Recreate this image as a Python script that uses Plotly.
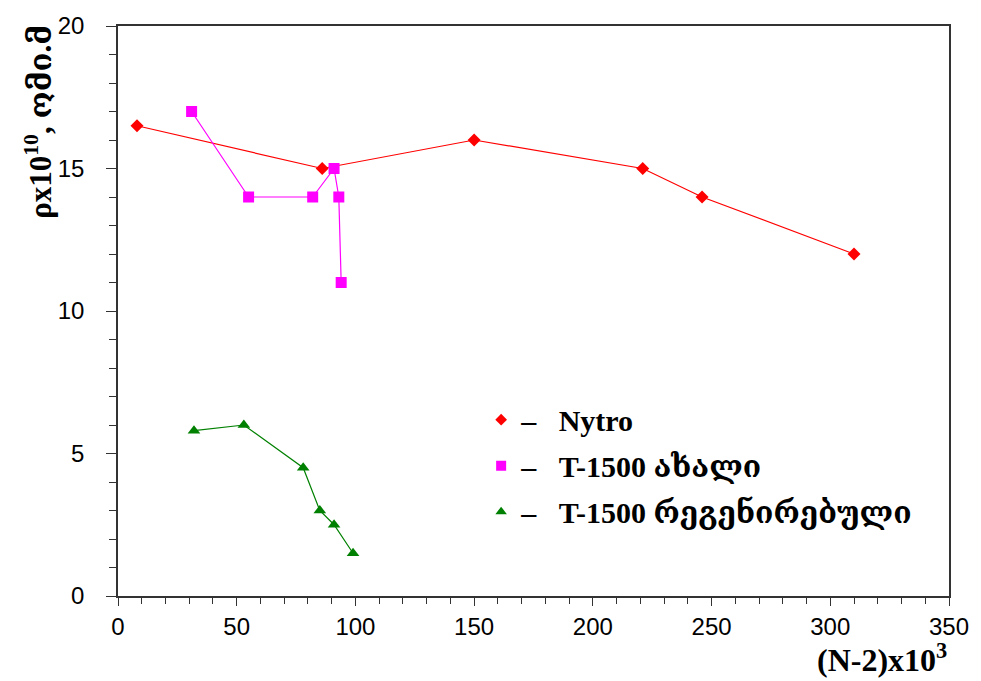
import plotly.graph_objects as go

# Data
nytro_x = [8, 86, 150, 221, 246, 310]
nytro_y = [16.5, 15, 16, 15, 14, 12]

new_x = [31, 55, 82, 91, 93, 94]
new_y = [17, 14, 14, 15, 14, 11]

regen_x = [32, 53, 78, 85, 91, 99]
regen_y = [5.8, 6, 4.5, 3, 2.5, 1.5]

names = ["Nytro", "T-1500 ახალი", "T-1500 რეგენირებული"]
colors = ["#FF0000", "#FF00FF", "#008000"]
symbols = ["diamond", "square", "triangle-up"]
sizes = [10, 11, 11]

fig = go.Figure()
series = [(nytro_x, nytro_y), (new_x, new_y), (regen_x, regen_y)]
for i, (xs, ys) in enumerate(series):
    fig.add_trace(go.Scatter(
        x=xs, y=ys, mode="lines+markers",
        line=dict(color=colors[i], width=1.2),
        marker=dict(color=colors[i], symbol=symbols[i], size=sizes[i], line=dict(width=0)),
        showlegend=False,
    ))
# legend-only entries (marker only, as in reference)
for i in range(3):
    fig.add_trace(go.Scatter(
        x=[None], y=[None], mode="markers",
        marker=dict(color=colors[i], symbol=symbols[i], size=sizes[i] - 1, line=dict(width=0)),
        name="\u2013\u00a0\u00a0\u00a0" + names[i], legendgroup="g%d" % i,
    ))

serif = "Liberation Serif, DejaVu Serif, serif"
sans = "Liberation Sans, Arial, sans-serif"

fig.update_layout(
    width=981, height=681,
    margin=dict(l=118, r=29, t=24, b=85),
    paper_bgcolor="white", plot_bgcolor="white",
    showlegend=True,
    legend=dict(
        x=0.437, y=0.355, xanchor="left", yanchor="top",
        font=dict(family=serif, size=30, color="black", weight="bold"),
        bgcolor="rgba(0,0,0,0)", tracegroupgap=4,
    ),
    xaxis=dict(
        range=[0, 350], dtick=50, tick0=0,
        showline=True, linecolor="#333333", linewidth=1.5, mirror=True,
        ticks="outside", ticklen=8, tickwidth=1.2, tickcolor="#333333",
        minor=dict(dtick=10, ticks="outside", ticklen=6, tickwidth=1.2, tickcolor="#333333"),
        showgrid=False, zeroline=False,
        tickfont=dict(family=sans, size=24, color="black"),
    ),
    yaxis=dict(
        range=[0, 20], dtick=5, tick0=0,
        showline=True, linecolor="#333333", linewidth=1.5, mirror=True,
        ticks="outside", ticklen=10, tickwidth=1.2, tickcolor="#333333",
        minor=dict(dtick=1, ticks="outside", ticklen=7, tickwidth=1.2, tickcolor="#333333"),
        showgrid=False, zeroline=False,
        tickfont=dict(family=sans, size=24, color="black"),
        ticklabelstandoff=17,
    ),
    annotations=[
        dict(text="(N-2)x10<sup>3</sup>", xref="paper", yref="paper",
             x=1.0, y=-0.108, xanchor="right", yanchor="middle", showarrow=False,
             font=dict(family=serif, size=32, color="black", weight="bold")),
        dict(text="ρx10<sup>10</sup>, ომი.მ", xref="paper", yref="paper",
             x=-0.095, y=0.832, xanchor="center", yanchor="middle", textangle=-90,
             showarrow=False,
             font=dict(family=serif, size=31, color="black", weight="bold")),
    ],
)

fig.write_html("out.html")
